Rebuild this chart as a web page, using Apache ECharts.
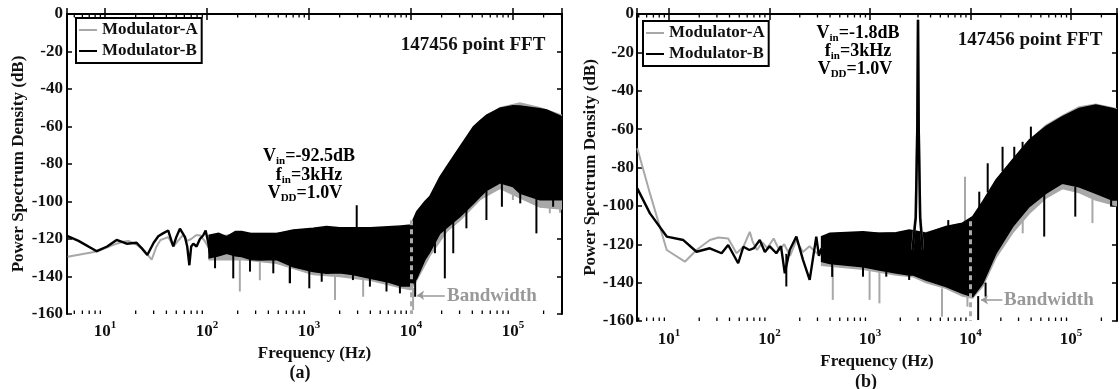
<!DOCTYPE html>
<html>
<head>
<meta charset="utf-8">
<script src="https://cdn.jsdelivr.net/npm/echarts@6/dist/echarts.min.js"></script>
<style>
html, body { margin: 0; background: #fff; }
#chart { width: 1120px; height: 389px; }
</style>
</head>
<body>
<div id="chart"></div>
<script>
(function () {

	var FONT = "'Liberation Serif', 'Times New Roman', serif";
	var INK = '#111';
	var GRAY = '#a8a8a8';

	// ---- panel (a): Vin = -92.5 dB ----
	// low-frequency traces [Hz, dB]
	var aTraceA = [[4.3,-129.5],[8.3,-126.7],[11,-124],[13,-122.5],[15,-121.5],[17,-121],[20.4,-123],[24,-126],[28.7,-131],[32,-124],[35,-120.5],[41.7,-119],[47,-124],[52,-121],[58,-118],[64,-121],[70,-120],[78,-118],[85.3,-118],[95,-121],[105,-125]];
	var aTraceB = [[4.3,-118.5],[5.5,-121],[8.3,-126.5],[10.5,-124],[13,-120.5],[16.3,-122.5],[20.4,-122],[23,-125],[26,-128.5],[30,-122],[33.3,-118.5],[37,-117],[41.7,-115.5],[46.7,-124],[50,-119],[54.3,-114.5],[60.9,-119],[64,-124],[67.2,-134],[70,-124],[73.5,-122.5],[79,-124],[85.3,-120],[92,-118],[97,-115.5],[103,-122],[107,-128]];
	// dense region envelopes [Hz, upper dB, lower dB]
	var aBandA = [[105,-119,-131],[219,-117,-131],[482,-117,-133],[1100,-115,-139],[2000,-115,-140],[4000,-114,-142],[8000,-114,-146],[10000,-113,-147],[11400,-106,-142],[15300,-98,-129],[22400,-82,-116],[30300,-71,-110],[47500,-57,-99],[74600,-50,-93],[117000,-47.5,-98],[184000,-50,-103],[303000,-54,-104]];
	var aBandB = [[105,-118,-130],[130,-117,-129],[156,-118.8,-127.6],[190,-116,-129],[219,-116,-129.4],[270,-117,-131],[330,-117,-131.2],[482,-117,-131],[702,-115.2,-134.8],[1100,-114.3,-137.4],[1490,-113.4,-138.3],[2000,-114,-138],[2700,-114,-139],[4000,-114,-141],[6000,-113.5,-143],[8000,-113,-145],[10000,-112.5,-145],[11400,-105.4,-141],[13700,-100,-131],[15300,-97.4,-127],[19200,-87,-117],[22400,-81.4,-114],[30300,-70.8,-108],[41000,-60.1,-101],[47500,-57,-97.4],[55200,-53.9,-94],[74600,-50.3,-90],[100000,-49,-92],[117000,-49.1,-95.5],[184000,-50.5,-99],[214000,-51.2,-99],[303000,-54.8,-99]];
	// single spectral lines [Hz, from dB, to dB]
	var aSpikesA = [[210,-130,-148],[330,-131,-142],[640,-133,-143.6],[1800,-139,-152.5],[3400,-140,-150.8],[10500,-146,-157.9],[100000,-92,-99.2],[230000,-100,-106.3],[290000,-103,-106]];
	var aSpikesB = [[120,-128,-135.6],[181,-127,-141],[264,-130,-137.4],[447,-130,-138.3],[652,-133,-143.6],[1008,-136,-146.3],[1334,-137,-142.8],[2700,-138,-141.9],[2940,-114,-102],[3960,-140,-145.4],[5760,-142,-148],[7800,-144,-149],[11000,-140,-150.8],[17200,-120,-127.6],[21500,-113,-141],[26000,-108,-127.6],[35000,-104,-114.3],[55000,-94,-109.9],[78000,-90,-102.8],[118000,-95,-101],[170000,-98,-117],[248000,-98,-102.8]];

	// ---- panel (b): Vin = -1.8 dB ----
	var bTraceA = [[4.84,-70],[6.47,-93.5],[9.5,-123],[14.4,-129.1],[18.8,-123],[25.5,-117.8],[31,-116.5],[38.8,-117],[43,-121],[47,-124.7],[55,-121.3],[63.7,-113.5],[68,-118.7],[75,-123],[85,-119],[95,-122],[110,-117],[125,-123],[140,-120],[160,-126],[185,-118],[215,-124],[250,-121],[300,-125],[330,-122]];
	var bTraceB = [[4.84,-90.9],[6.47,-103.9],[9.5,-116],[13.9,-117.8],[18.8,-123.9],[25.5,-122.1],[33.4,-124.7],[38.8,-120.4],[48.8,-129.9],[55,-121.3],[63,-123],[70,-122],[80,-117.8],[90,-124],[100,-121],[117,-124.7],[130,-121],[142,-135.1],[159,-123],[185,-116],[215,-128],[251,-138.6],[292,-116],[310,-126],[330,-122]];
	var bToneA = [[2630,-123],[2850,-104],[2950,-62],[3000,-3],[3050,-62],[3150,-104],[3350,-123]];
	var bToneB = [[2630,-124],[2850,-106],[2950,-60],[3000,-3],[3050,-60],[3150,-106],[3350,-124]];
	var bBandA = [[330,-116,-131],[851,-114,-133],[1820,-114,-136],[2700,-113,-137],[3600,-114,-140],[5700,-111,-143],[8300,-109,-147],[10500,-106,-148],[13200,-98,-142],[17900,-87,-127],[26200,-76,-114],[38300,-66,-104],[56000,-58,-96],[82000,-53,-91],[120000,-48.5,-93],[176000,-47,-97],[290000,-49.5,-100]];
	var bBandB = [[330,-116,-129],[398,-114.3,-130],[851,-113.5,-131.7],[1240,-114.3,-133.4],[1820,-114,-135],[2450,-112.6,-136],[2700,-113,-136],[3600,-114.3,-138.6],[5700,-110.8,-142],[8300,-109,-145.6],[10500,-105.6,-147.3],[13200,-97.8,-140.4],[17900,-86.5,-124.7],[26200,-76,-110.8],[38300,-65.7,-100.4],[56000,-58.7,-93.5],[82000,-53.5,-88.2],[120000,-49.2,-90],[176000,-47.4,-93.5],[257000,-49.2,-96.9],[290000,-50,-97]];
	var bSpikesA = [[426,-131,-149],[990,-133,-149],[1240,-134,-150.8],[5200,-143,-157.8],[8800,-108,-84.8],[9300,-147,-152.5],[33000,-104,-114.3],[163000,-96,-109]];
	var bSpikesB = [[147,-125,-142],[420,-130,-137],[851,-131,-136.9],[1450,-134,-136.9],[2450,-136,-138.6],[6000,-111,-107.4],[11900,-147,-159.5],[12200,-101,-92.6],[14100,-140,-147.3],[14800,-93,-77.8],[20800,-82,-69.2],[27200,-75,-69.2],[32900,-70,-66.6],[39800,-65,-58.7],[54000,-94,-116],[110000,-90,-105.6],[250000,-97,-100.4]];

	// axis ranges and markers
	var aRange = [4.24, 3.03e5];
	var bRange = [4.81, 2.86e5];
	var bandwidthHz = 1e4;
	var legendNames = ['Modulator-A', 'Modulator-B'];

	// 2..9 minor ticks of each decade
	var minorFreqs = [];
	[1, 10, 100, 1000, 10000, 100000].forEach(function (dec) {
		for (var m = 2; m <= 9; m++) minorFreqs.push(m * dec);
	});

	function xAxes(grid, range, margin, gap) {
		var line = { lineStyle: { color: '#000', width: 2 } };
		var tick = { inside: true, length: 6, lineStyle: { color: '#000', width: 1.5 } };
		return [{
			gridIndex: grid, type: 'log', logBase: 10, min: range[0], max: range[1],
			axisLine: line, axisTick: tick, splitLine: { show: false },
			axisLabel: {
				margin: margin,
				formatter: function (v) {
					var e = Math.log10(v);
					if (Math.abs(e - Math.round(e)) > 1e-6) return '';
					return '{b|10}{s|' + Math.round(e) + '}';
				},
				rich: {
					b: { fontFamily: FONT, fontWeight: 'bold', fontSize: 17, color: INK, lineHeight: 24 },
					s: { fontFamily: FONT, fontWeight: 'bold', fontSize: 11, color: INK, lineHeight: 12, verticalAlign: 'top' }
				}
			},
			name: 'Frequency (Hz)', nameLocation: 'middle', nameGap: gap,
			nameTextStyle: { fontFamily: FONT, fontWeight: 'bold', fontSize: 17, color: INK }
		}, {
			gridIndex: grid, type: 'log', logBase: 10, min: range[0], max: range[1], position: 'top',
			axisLine: line, axisTick: tick, splitLine: { show: false }, axisLabel: { show: false }
		}];
	}

	function yAxes(grid, margin, gap) {
		var line = { lineStyle: { color: '#000', width: 2 } };
		var tick = { inside: true, length: 5, lineStyle: { color: '#000', width: 1.5 } };
		return [{
			gridIndex: grid, type: 'value', min: -160, max: 0, interval: 20,
			axisLine: line, axisTick: tick, splitLine: { show: false },
			axisLabel: { margin: margin, fontFamily: FONT, fontWeight: 'bold', fontSize: 17, color: INK },
			name: 'Power Spectrum Density (dB)', nameLocation: 'middle', nameGap: gap,
			nameTextStyle: { fontFamily: FONT, fontWeight: 'bold', fontSize: 17, color: INK }
		}, {
			gridIndex: grid, type: 'value', min: -160, max: 0, interval: 20, position: 'right',
			axisLine: line, axisTick: tick, splitLine: { show: false }, axisLabel: { show: false }
		}];
	}

	function trace(name, data, color, width, ax) {
		return {
			name: name, type: 'line', xAxisIndex: ax, yAxisIndex: ax, data: data,
			showSymbol: false, silent: true,
			lineStyle: { color: color, width: width }, itemStyle: { color: color }
		};
	}

	// filled polygon between upper and lower envelope
	function band(name, data, color, ax) {
		return {
			name: name, type: 'custom', xAxisIndex: ax, yAxisIndex: ax, data: data,
			encode: { x: 0, y: [1, 2] }, clip: true, silent: true,
			renderItem: function (params, api) {
				if (params.dataIndex !== 0) return null;
				var top = [], bot = [];
				data.forEach(function (d) {
					top.push(api.coord([d[0], d[1]]));
					bot.unshift(api.coord([d[0], d[2]]));
				});
				return {
					type: 'polygon', shape: { points: top.concat(bot) },
					style: { fill: color, stroke: color, lineWidth: 1.5 }
				};
			}
		};
	}

	// vertical spectral lines
	function spikes(name, data, color, ax) {
		return {
			name: name, type: 'custom', xAxisIndex: ax, yAxisIndex: ax, data: data,
			encode: { x: 0, y: [1, 2] }, clip: true, silent: true,
			renderItem: function (params, api) {
				var p1 = api.coord([api.value(0), api.value(1)]);
				var p2 = api.coord([api.value(0), api.value(2)]);
				return {
					type: 'line', shape: { x1: p1[0], y1: p1[1], x2: p2[0], y2: p2[1] },
					style: { stroke: color, lineWidth: 2 }
				};
			}
		};
	}

	function minorTicks(ax, range) {
		var data = minorFreqs.filter(function (f) { return f > range[0] && f < range[1]; })
			.map(function (f) { return [f]; });
		return {
			name: 'minor', type: 'custom', xAxisIndex: ax, yAxisIndex: ax, data: data,
			encode: { x: 0 }, silent: true, z: 5,
			renderItem: function (params, api) {
				var b = api.coord([api.value(0), -160]);
				var t = api.coord([api.value(0), 0]);
				var st = { stroke: '#000', lineWidth: 1.3 };
				return {
					type: 'group', children: [
						{ type: 'line', shape: { x1: b[0], y1: b[1], x2: b[0], y2: b[1] - 3.5 }, style: st },
						{ type: 'line', shape: { x1: t[0], y1: t[1], x2: t[0], y2: t[1] + 3.5 }, style: st }
					]
				};
			}
		};
	}

	// dashed bandwidth line plus arrow
	function bandwidthMarks(ax, top, arrowFrom, arrowTo, arrowDb) {
		return {
			name: 'bw', type: 'line', xAxisIndex: ax, yAxisIndex: ax, data: [], silent: true, z: 6,
			markLine: {
				silent: true, animation: false, label: { show: false }, symbol: ['none', 'none'],
				data: [
					[{ coord: [bandwidthHz, top], lineStyle: { type: [5, 4], color: '#aaa', width: 3 } },
						{ coord: [bandwidthHz, -160] }],
					[{ coord: [arrowFrom, arrowDb], symbol: 'none', lineStyle: { type: 'solid', color: '#999', width: 1.5 } },
						{ coord: [arrowTo, arrowDb], symbol: 'arrow', symbolSize: [7, 7] }]
				]
			}
		};
	}

	function legend(left, top) {
		return {
			data: legendNames, left: left, top: top, orient: 'vertical', icon: 'rect',
			itemWidth: 18, itemHeight: 2, itemGap: 3, padding: [3, 4, 3, 3],
			borderColor: '#000', borderWidth: 2, backgroundColor: '#fff', selectedMode: false,
			textStyle: { fontFamily: FONT, fontWeight: 'bold', fontSize: 17, color: INK, lineHeight: 18 }
		};
	}

	function richLine(x, y, text, size) {
		return {
			type: 'text', x: x, y: y, z: 100,
			style: {
				text: text, align: 'center', verticalAlign: 'middle',
				rich: {
					m: { fontFamily: FONT, fontWeight: 'bold', fontSize: size, color: INK, lineHeight: 22 },
					s: { fontFamily: FONT, fontWeight: 'bold', fontSize: 11, color: INK, lineHeight: 11, verticalAlign: 'bottom' }
				}
			}
		};
	}

	function plain(x, y, text, size, color, align) {
		return {
			type: 'text', x: x, y: y, z: 100,
			style: {
				text: text, align: align || 'center', verticalAlign: 'middle',
				fontFamily: FONT, fontWeight: 'bold', fontSize: size, fill: color
			}
		};
	}

	var chart = echarts.init(document.getElementById('chart'), null, { renderer: 'canvas' });

	chart.setOption({
		animation: false,
		backgroundColor: '#fff',
		grid: [
			{ left: 67, top: 14, width: 495, height: 300 },
			{ left: 637, top: 14, width: 481, height: 307 }
		],
		xAxis: xAxes(0, aRange, 6, 31).concat(xAxes(1, bRange, 7, 30)),
		yAxis: yAxes(0, 4, 40).concat(yAxes(1, 3, 38)),
		legend: [legend(76, 18), legend(643, 21)],
		series: [
			trace('Modulator-A', aTraceA, GRAY, 2, 0),
			band('A band', aBandA, GRAY, 0),
			spikes('A lines', aSpikesA, GRAY, 0),
			trace('Modulator-B', aTraceB, '#000', 2.4, 0),
			band('B band', aBandB, '#000', 0),
			spikes('B lines', aSpikesB, '#000', 0),
			bandwidthMarks(0, -110, 2.15e4, 1.15e4, -150),
			minorTicks(0, aRange),

			trace('Modulator-A', bTraceA, GRAY, 2, 2),
			trace('A tone', bToneA, GRAY, 2.5, 2),
			band('A band', bBandA, GRAY, 2),
			spikes('A lines', bSpikesA, GRAY, 2),
			trace('Modulator-B', bTraceB, '#000', 2.4, 2),
			band('B band', bBandB, '#000', 2),
			spikes('B lines', bSpikesB, '#000', 2),
			trace('B tone', bToneB, '#000', 2.5, 2),
			bandwidthMarks(2, -108, 2.07e4, 1.27e4, -149),
			minorTicks(2, bRange)
		],
		graphic: [
			plain(473, 45, '147456 point FFT', 19, INK),
			richLine(309, 156, '{m|V}{s|in}{m|=-92.5dB}', 18),
			richLine(309, 175, '{m|f}{s|in}{m|=3kHz}', 18),
			richLine(305, 193, '{m|V}{s|DD}{m|=1.0V}', 18),
			plain(447, 296, 'Bandwidth', 19, '#999', 'left'),
			plain(300, 373, '(a)', 18, INK),

			plain(1030, 40, '147456 point FFT', 19, INK),
			richLine(858, 33, '{m|V}{s|in}{m|=-1.8dB}', 18),
			richLine(858, 51, '{m|f}{s|in}{m|=3kHz}', 18),
			richLine(855, 69, '{m|V}{s|DD}{m|=1.0V}', 18),
			plain(1004, 300, 'Bandwidth', 19, '#999', 'left'),
			plain(866, 382, '(b)', 18, INK)
		]
	});
})();
</script>
</body>
</html>
